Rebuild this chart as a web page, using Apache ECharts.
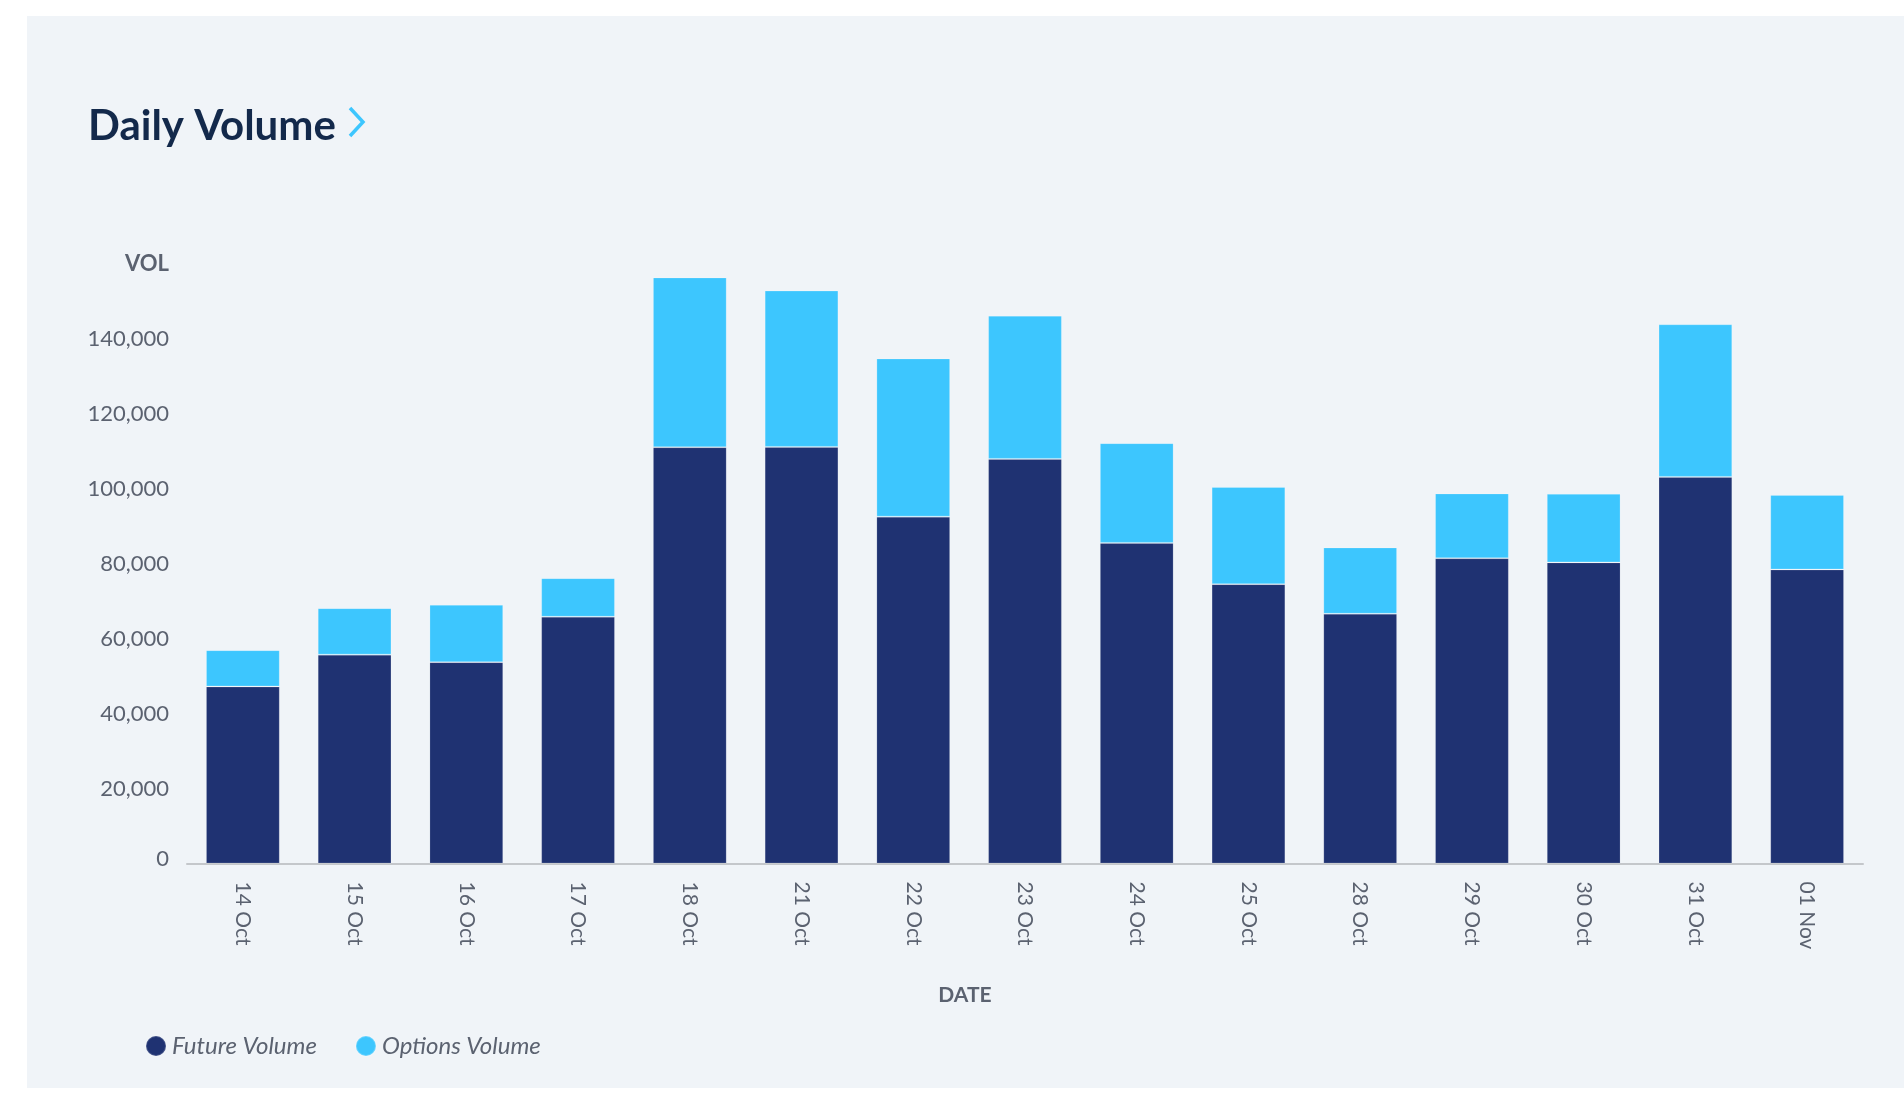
<!DOCTYPE html>
<html>
<head>
<meta charset="utf-8">
<script src="https://cdn.jsdelivr.net/npm/echarts@6/dist/echarts.min.js"></script>
<style>
  html, body { margin: 0; padding: 0; width: 100%; height: 100%; background: #ffffff; overflow: hidden; }
  #panel { position: absolute; left: 27px; top: 16px; right: 0; bottom: 5px; background: #F0F4F8; }
  #chart { position: absolute; left: 0; top: 0; width: 1904px; height: 1093px; }
</style>
</head>
<body>
<div id="panel"></div>
<div id="chart"></div>
<script>
// ---- data ----
var categories = ['14 Oct','15 Oct','16 Oct','17 Oct','18 Oct','21 Oct','22 Oct','23 Oct','24 Oct','25 Oct','28 Oct','29 Oct','30 Oct','31 Oct','01 Nov'];
var futureVolume  = [47200, 55700, 53700, 65800, 111000, 111100, 92500, 107900, 85500, 74500, 66600, 81400, 80300, 103100, 78400];
var optionsVolume = [ 9700, 12400, 15300, 10300,  45300,  41700, 42200,  38200, 26600, 25900, 17700, 17300, 18300,  40700, 19900];
var yTicks = [0, 20000, 40000, 60000, 80000, 100000, 120000, 140000, 160000];

var navy = '#1F3272';
var sky = '#3DC6FE';
var textGrey = '#5B6270';
var font = 'Lato, "Noto Sans", sans-serif';

var chart = echarts.init(document.getElementById('chart'), null, { renderer: 'canvas' });

function fmt(v) {
  return String(v).replace(/\B(?=(\d{3})+(?!\d))/g, ',');
}

var option = {
  backgroundColor: 'transparent',
  animation: false,
  textStyle: { fontFamily: font },
  title: [
    {
      text: 'Daily Volume',
      left: 83, top: 100,
      textStyle: { fontFamily: font, fontSize: 42, fontWeight: 'bold', color: '#13294B' }
    },
    {
      text: 'DATE',
      left: 960, top: 980, textAlign: 'center',
      textStyle: { fontFamily: font, fontSize: 21, fontWeight: 'bold', color: textGrey }
    }
  ],
  graphic: [
    {
      type: 'polyline',
      shape: { points: [[350, 108], [363, 122], [350, 136]] },
      style: { stroke: sky, lineWidth: 3.5, fill: null, lineJoin: 'miter' }
    }
  ],
  legend: {
    left: 145, top: 1034,
    padding: 0,
    icon: 'circle',
    itemWidth: 20, itemHeight: 20,
    itemGap: 38,
    textStyle: { fontFamily: font, fontSize: 24, fontStyle: 'italic', color: textGrey, padding: [0, 0, 0, 1] },
    data: ['Future Volume', 'Options Volume']
  },
  grid: { left: 187, right: 41, top: 263.5, bottom: 229.5, containLabel: false },
  xAxis: {
    type: 'category',
    data: categories,
    axisLine: { show: true, lineStyle: { color: '#C4C7CB', width: 2 } },
    axisTick: { show: false },
    axisLabel: {
      rotate: -90, margin: 18,
      fontFamily: font, fontSize: 21, color: textGrey
    },
    splitLine: { show: false }
  },
  yAxis: {
    type: 'value',
    min: yTicks[0], max: yTicks[yTicks.length - 1], interval: 20000,
    axisLine: { show: false },
    axisTick: { show: false },
    splitLine: { show: false },
    axisLabel: {
      margin: 18,
      fontFamily: font, fontSize: 22, color: textGrey,
      formatter: function (v) {
        if (v === yTicks[yTicks.length - 1]) return '{vol|VOL}';
        if (v === 0) return '{zero|0}';
        return fmt(v);
      },
      rich: {
        vol: { fontFamily: font, fontSize: 22, fontWeight: 'bold', color: textGrey },
        zero: { fontFamily: font, fontSize: 22, color: textGrey, padding: [0, 0, 10, 0] }
      }
    }
  },
  series: [
    {
      name: 'Future Volume',
      type: 'bar',
      stack: 'vol',
      barWidth: '66%',
      data: futureVolume,
      itemStyle: { color: navy, borderColor: 'rgba(255,255,255,0.15)', borderWidth: 1 }
    },
    {
      name: 'Options Volume',
      type: 'bar',
      stack: 'vol',
      barWidth: '66%',
      data: optionsVolume,
      itemStyle: { color: sky, borderColor: 'rgba(255,255,255,0.2)', borderWidth: 1 }
    }
  ]
};
option.color = [navy, sky];
chart.setOption(option);
</script>
</body>
</html>
